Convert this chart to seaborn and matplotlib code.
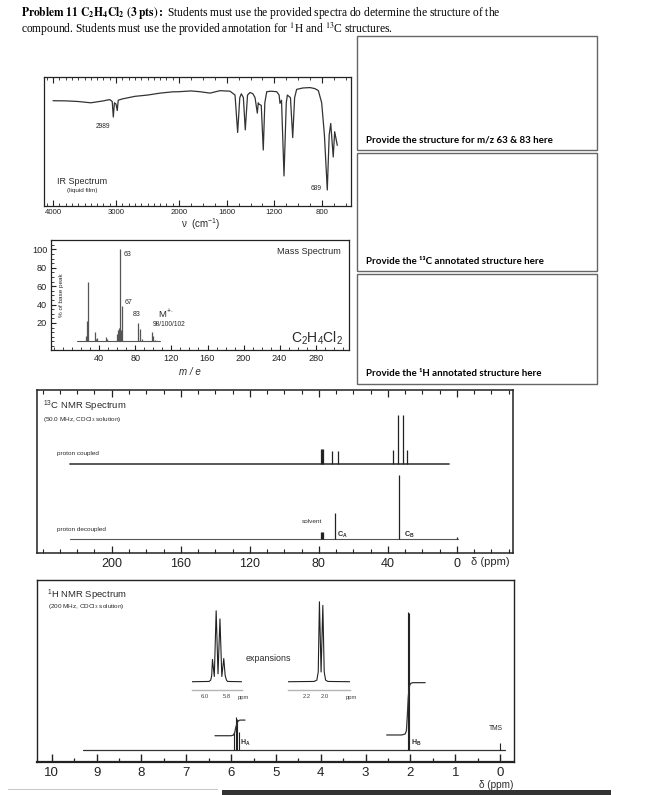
import numpy as np
import matplotlib
matplotlib.use("Agg")
import matplotlib.pyplot as plt
import seaborn as sns
from matplotlib.patches import Rectangle
from matplotlib.ticker import FixedLocator, MultipleLocator, NullFormatter

# ---------------- data ----------------
IR_WAVENUMBER = [4000, 3800, 3600, 3400, 3200, 3100, 3060, 3043, 3025, 3000, 2980, 2965,
                 2900, 2700, 2500, 2300, 2100, 2000, 1900, 1824, 1740, 1656, 1572, 1530,
                 1508, 1490, 1477, 1460, 1444, 1425, 1404, 1380, 1362, 1343, 1335, 1329,
                 1310, 1293, 1280, 1264, 1230, 1180, 1160, 1153, 1140, 1119, 1100, 1091,
                 1065, 1046, 1030, 1013, 960, 901, 860, 831, 803, 780, 756, 740, 727,
                 706, 694, 672]
IR_TRANSMITTANCE = [81.6, 81.5, 81.0, 80.0, 81.5, 82.5, 81.0, 69.0, 80.0, 79.0, 74.0, 82.0,
                    83.0, 85.0, 86.0, 87.5, 88.5, 88.6, 89.2, 88.6, 87.5, 89.4, 89.0, 86.0,
                    57.0, 84.0, 87.0, 84.0, 59.0, 86.0, 88.0, 87.0, 84.0, 72.0, 80.0, 79.0,
                    78.0, 43.4, 80.0, 88.6, 89.0, 88.6, 86.0, 79.6, 82.0, 23.3, 80.0, 86.0,
                    84.0, 53.0, 84.0, 90.4, 91.5, 91.8, 91.0, 89.5, 80.0, 55.0, 12.4, 55.0,
                    64.0, 38.0, 57.6, 47.0]
IR_TICKS = [4000, 3000, 2000, 1600, 1200, 800]

MS_MZ = [25, 26, 27, 35, 36, 37, 47, 48, 49, 60, 61, 62, 63, 64, 65, 83, 85, 87, 98, 100, 102]
MS_INTENSITY = [6, 22, 65, 10, 3, 4, 5, 3, 2, 8, 12, 14, 100, 12, 38, 20, 13, 3, 10, 6, 1]
MS_XTICKS = [40, 80, 120, 160, 200, 240, 280]
MS_YTICKS = [20, 40, 60, 80, 100]

C13_TICKS = [200, 160, 120, 80, 40, 0]
C13_COUPLED_SPAN = [224.2, 4.3]
C13_COUPLED_BASE = 54.5
C13_COUPLED_PPM = [78.9, 78.3, 77.7, 72.5, 69.0, 37.1, 34.4, 31.5, 29.0]
C13_COUPLED_INT = [9.1, 9.1, 9.1, 8.0, 8.0, 8.6, 30.1, 30.1, 8.6]
C13_DECOUPLED_SPAN = [224.0, -0.5]
C13_DECOUPLED_BASE = 8.4
C13_DECOUPLED_PPM = [78.9, 78.3, 77.7, 70.6, 33.3, 0.0]
C13_DECOUPLED_INT = [4.1, 4.1, 4.1, 16.2, 39.4, 1.1]

H1_TICKS = [10, 9, 8, 7, 6, 5, 4, 3, 2, 1, 0]
H1_SPAN = [9.31, -0.11]
H1_BASE = 6.4
H1_PPM = [5.93, 5.895, 5.86, 5.825, 2.065, 2.035, 0.0]
H1_INT = [10, 18, 17, 10, 76.2, 75.3, 4.1]
HA_INTEGRAL_PPM = [6.36, 6.00, 5.95, 5.92, 5.90, 5.87, 5.84, 5.80, 5.69]
HA_INTEGRAL_Y = [14.3, 14.3, 14.6, 16.0, 18.5, 21.0, 22.5, 22.9, 22.9]
HB_INTEGRAL_PPM = [2.53, 2.20, 2.12, 2.09, 2.07, 2.05, 2.03, 2.00, 1.95, 1.67]
HB_INTEGRAL_Y = [14.7, 14.7, 15.2, 17.0, 25.0, 35.0, 41.0, 43.0, 43.5, 43.5]

INSET_A_PPM = [6.12, 5.96, 5.945, 5.936, 5.929, 5.912, 5.895, 5.878, 5.860, 5.843,
               5.825, 5.812, 5.80, 5.79, 5.66]
INSET_A_Y = [9.2, 9.5, 11, 16, 34, 15, 88, 18, 79, 15, 35, 16, 11, 9.5, 9.2]
INSET_A_TICKS = [6.0, 5.8]
INSET_B_PPM = [2.40, 2.12, 2.09, 2.075, 2.062, 2.044, 2.025, 2.01, 1.995, 1.97, 1.73]
INSET_B_Y = [9.2, 9.5, 11, 20, 98, 20, 94, 20, 11, 9.5, 9.2]
INSET_B_TICKS = [2.2, 2.0]

# ---------------- setup ----------------
W, H = 653, 795
sns.set_theme(style="white")
plt.rcParams['font.family'] = ['Liberation Sans', 'DejaVu Sans']
plt.rcParams['mathtext.fontset'] = 'custom'
plt.rcParams['mathtext.rm'] = 'Liberation Sans'
plt.rcParams['mathtext.it'] = 'Liberation Sans:italic'
plt.rcParams['mathtext.bf'] = 'Liberation Sans:bold'
plt.rcParams['axes.edgecolor'] = '#222222'
plt.rcParams['xtick.color'] = '#222222'
plt.rcParams['ytick.color'] = '#222222'

fig = plt.figure(figsize=(W / 100, H / 100), dpi=100)
fig.patch.set_facecolor('white')
INK = '#2a2a2a'


def box(l, t, r, b):
    return [l / W, 1 - b / H, (r - l) / W, (b - t) / H]


def ftext(x, y, s, **kw):
    kw.setdefault('ha', 'left')
    kw.setdefault('va', 'center')
    kw.setdefault('color', INK)
    return fig.text(x / W, 1 - y / H, s, **kw)


def frame(ax, lw=1.0):
    for sp in ax.spines.values():
        sp.set_linewidth(lw)
        sp.set_color('#222222')


# ---------------- title ----------------
serif = ['Liberation Serif', 'DejaVu Serif']
ftext(21, 13, r"$\mathbf{Problem\ 11\ C_2H_4Cl_2\ (3\ pts):}$ Students must use the provided spectra do determine the structure of the",
      family=serif, fontsize=8.3, math_fontfamily='stix', color='black')
ftext(21, 29, r"compound. Students must use the provided annotation for $^{1}$H and $^{13}$C structures.",
      family=serif, fontsize=8.3, math_fontfamily='stix', color='black')

# ---------------- IR ----------------
ax_ir = fig.add_axes(box(44, 77, 351, 206))
sns.lineplot(x=IR_WAVENUMBER, y=IR_TRANSMITTANCE, ax=ax_ir, sort=False, estimator=None,
             color='#333333', linewidth=0.9, legend=False)


def ir_fwd(w):
    w = np.asarray(w, dtype=float)
    return np.where(w >= 2000, 0.063 * (w - 2000), 0.1192 * (w - 2000))


def ir_inv(p):
    p = np.asarray(p, dtype=float)
    return np.where(p >= 0, 2000 + p / 0.063, 2000 + p / 0.1192)


ax_ir.set_xscale('function', functions=(ir_fwd, ir_inv))
ax_ir.set_xlim(4143, 557)
ax_ir.set_ylim(0, 100)
ax_ir.xaxis.set_major_locator(FixedLocator(IR_TICKS))
ax_ir.set_xticklabels([str(t) for t in IR_TICKS])
ax_ir.xaxis.set_minor_locator(MultipleLocator(100))
ax_ir.xaxis.set_minor_formatter(NullFormatter())
ax_ir.set_yticks([])
ax_ir.tick_params(axis='x', which='both', direction='in', top=True, bottom=True,
                  labelsize=5.6, pad=2.5)
ax_ir.tick_params(axis='x', which='major', length=4, width=0.8)
ax_ir.tick_params(axis='x', which='minor', length=2, width=0.6)
ax_ir.set_xlabel('')
ax_ir.set_ylabel('')
frame(ax_ir, 0.9)
ftext(103, 127, "2989", fontsize=4.8, ha='center')
ftext(316, 188.3, "689", fontsize=4.8, ha='center')
ftext(57, 181, "IR Spectrum", fontsize=6.5)
ftext(67, 190.7, "(liquid film)", fontsize=4.6)
ftext(201, 224, "ν  (cm$^{-1}$)", fontsize=7, ha='center')

# ---------------- MS ----------------
ax_ms = fig.add_axes(box(50.7, 240.3, 349, 350.3))
ax_ms.vlines(MS_MZ, 0, MS_INTENSITY, color='#555555', linewidth=0.9)
sns.lineplot(x=[min(MS_MZ) - 10, max(MS_MZ) + 5], y=[0, 0], ax=ax_ms, color='#555555',
             linewidth=0.8, estimator=None, legend=False)
ax_ms.set_xlim(-14, 317)
ax_ms.set_ylim(-9.7, 109.8)
ax_ms.set_xticks(MS_XTICKS)
ax_ms.set_yticks(MS_YTICKS)
ax_ms.xaxis.set_minor_locator(MultipleLocator(10))
ax_ms.yaxis.set_minor_locator(MultipleLocator(5))
ax_ms.tick_params(which='both', direction='in', bottom=True, left=True, labelsize=6.6, pad=2.5)
ax_ms.tick_params(which='major', length=3.5, width=0.8)
ax_ms.tick_params(which='minor', length=2, width=0.6)
frame(ax_ms, 0.9)
ftext(341, 251, "Mass Spectrum", fontsize=6.6, ha='right')
ftext(124, 255, "63", fontsize=5)
ftext(124.5, 302.7, "67", fontsize=5)
ftext(136.7, 315, "83", fontsize=5, ha='center')
ftext(157.5, 314, r"M$^{+\cdot}$", fontsize=6.8)
ftext(152.7, 324, "98/100/102", fontsize=4.8)
ftext(343, 338, r"C$_2$H$_4$Cl$_2$", fontsize=10, ha='right')
ftext(61.7, 295, "% of base peak", fontsize=4.6, rotation=90, ha='center')
ftext(190, 371.7, "m / e", fontsize=7, ha='center', style='italic')

# ---------------- 13C NMR ----------------
ax_c = fig.add_axes(box(37, 390, 513, 552.7))
sns.lineplot(x=C13_COUPLED_SPAN, y=[C13_COUPLED_BASE] * 2, ax=ax_c, color='#4a4a4a',
             linewidth=1.3, estimator=None, legend=False)
ax_c.vlines(C13_COUPLED_PPM, C13_COUPLED_BASE,
            [C13_COUPLED_BASE + v for v in C13_COUPLED_INT], color='#222222', linewidth=0.9)
sns.lineplot(x=C13_DECOUPLED_SPAN, y=[C13_DECOUPLED_BASE] * 2, ax=ax_c, color='#555555',
             linewidth=0.8, estimator=None, legend=False)
ax_c.vlines(C13_DECOUPLED_PPM, C13_DECOUPLED_BASE,
            [C13_DECOUPLED_BASE + v for v in C13_DECOUPLED_INT], color='#222222', linewidth=0.9)
ax_c.set_xlim(243.3, -32.5)
ax_c.set_ylim(0, 100)
ax_c.set_xticks(C13_TICKS)
ax_c.xaxis.set_minor_locator(MultipleLocator(10))
ax_c.set_yticks([])
ax_c.tick_params(axis='x', which='both', direction='in', top=True, bottom=True,
                 labelsize=9, pad=4)
ax_c.tick_params(axis='x', which='major', length=5, width=0.9)
ax_c.tick_params(axis='x', which='minor', length=3, width=0.8)
frame(ax_c, 1.1)
ftext(43, 406.7, r"$^{13}$C NMR Spectrum", fontsize=6.8)
ftext(43, 419.3, r"(50.0 MHz, CDCl$_3$ solution)", fontsize=4.6)
ftext(57, 454, "proton coupled", fontsize=4.6)
ftext(57, 529.3, "proton decoupled", fontsize=4.6)
ftext(311.7, 521.7, "solvent", fontsize=4.6, ha='center')
ftext(337, 534.5, r"$\mathbf{C_A}$", fontsize=5.2)
ftext(404, 534.5, r"$\mathbf{C_B}$", fontsize=5.2)
ftext(510, 561.7, "δ (ppm)", fontsize=8, ha='right')

# ---------------- 1H NMR ----------------
ax_h = fig.add_axes(box(37, 580, 514, 761.7))
sns.lineplot(x=H1_SPAN, y=[H1_BASE] * 2, ax=ax_h, color='#333333', linewidth=0.9,
             estimator=None, legend=False)
ax_h.vlines(H1_PPM, H1_BASE, [H1_BASE + v for v in H1_INT], color='#222222', linewidth=0.8)
sns.lineplot(x=HA_INTEGRAL_PPM, y=HA_INTEGRAL_Y, ax=ax_h, sort=False, estimator=None,
             color='#333333', linewidth=0.9, legend=False)
sns.lineplot(x=HB_INTEGRAL_PPM, y=HB_INTEGRAL_Y, ax=ax_h, sort=False, estimator=None,
             color='#333333', linewidth=0.9, legend=False)
ax_h.set_xlim(10.33, -0.31)
ax_h.set_ylim(0, 100)
ax_h.set_xticks(H1_TICKS)
ax_h.xaxis.set_minor_locator(MultipleLocator(0.5))
ax_h.set_yticks([])
ax_h.tick_params(axis='x', which='both', direction='in', bottom=True, labelsize=9.5, pad=3.5)
ax_h.tick_params(axis='x', which='major', length=6, width=1.0)
ax_h.tick_params(axis='x', which='minor', length=3, width=0.9)
frame(ax_h, 1.0)
ax_h.spines['bottom'].set_linewidth(1.6)
ftext(46.7, 595, r"$^{1}$H NMR Spectrum", fontsize=6.8)
ftext(48, 606.7, r"(200 MHz, CDCl$_3$ solution)", fontsize=4.6)
ftext(268, 658.3, "expansions", fontsize=6.4, ha='center')
ftext(495.7, 728.3, "TMS", fontsize=4.8, ha='center')
ftext(240, 743.3, r"$\mathbf{H_A}$", fontsize=5)
ftext(410.7, 743.3, r"$\mathbf{H_B}$", fontsize=5)
ftext(513, 785, "δ (ppm)", fontsize=7.2, ha='right')


def inset(l, r, xs, ys, lim, ticks, ppm_x):
    ax = fig.add_axes(box(l, 600, r, 690))
    ax.patch.set_alpha(0)
    sns.lineplot(x=xs, y=ys, ax=ax, sort=False, estimator=None, color='#222222',
                 linewidth=0.8, legend=False)
    ax.set_xlim(*lim)
    ax.set_ylim(0, 100)
    ax.set_xticks(ticks)
    ax.set_xticklabels([f"{t:.1f}" for t in ticks])
    ax.set_yticks([])
    for k in ['top', 'left', 'right']:
        ax.spines[k].set_visible(False)
    ax.spines['bottom'].set_color('#b5b5b5')
    ax.spines['bottom'].set_linewidth(1.0)
    ax.tick_params(axis='x', direction='in', length=2, width=0.6, color='#888888',
                   labelsize=4.2, pad=3, labelcolor='#444444')
    ftext(ppm_x, 697.3, "ppm", fontsize=4.2, ha='center', color='#444444')
    return ax


inset(191.7, 241.7, INSET_A_PPM, INSET_A_Y, (6.12, 5.66), INSET_A_TICKS, 243.3)
inset(288.3, 350, INSET_B_PPM, INSET_B_Y, (2.40, 1.73), INSET_B_TICKS, 351.7)

# ---------------- answer boxes ----------------
for (t, b, label) in [(35.7, 150, "Provide the structure for m/z 63 & 83 here"),
                      (152.7, 271.3, "Provide the ¹³C annotated structure here"),
                      (274.3, 384, "Provide the ¹H annotated structure here")]:
    fig.add_artist(Rectangle((356.7 / W, 1 - b / H), (596.7 - 356.7) / W, (b - t) / H,
                             transform=fig.transFigure, fill=False, ec='#666666', lw=1.0))
    ftext(365.7, b - 10, label, family=['Lato', 'DejaVu Sans'], fontweight='bold',
          fontsize=7, color='black')

# page artefacts at bottom
fig.add_artist(Rectangle((222 / W, 0), (611 - 222) / W, 5 / H, transform=fig.transFigure,
                         fc='#333333', ec='none'))
fig.add_artist(Rectangle((8 / W, 5.5 / H), (218 - 8) / W, 1 / H, transform=fig.transFigure,
                         fc='#c8c8c8', ec='none'))

fig.savefig("out.png", dpi=100, facecolor='white')
